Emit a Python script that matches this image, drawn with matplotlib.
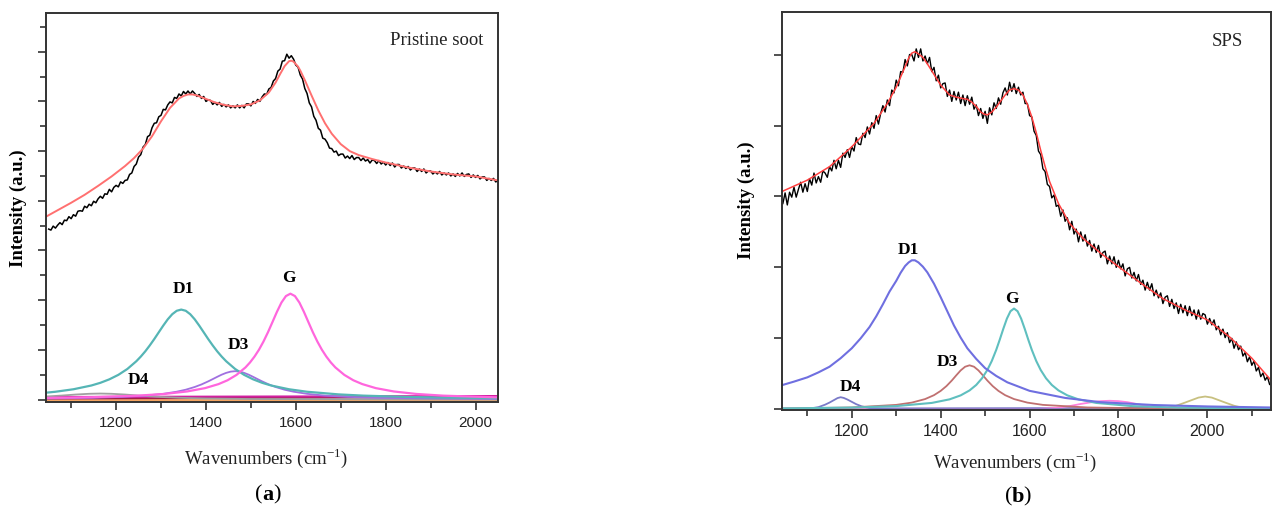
"""
Raman spectra of pristine soot and SPS soot with their band fits
"""

import numpy as np
import matplotlib
matplotlib.use('Agg')

import matplotlib.pyplot as plt
from matplotlib.ticker import MultipleLocator, NullFormatter

plt.rcParams['font.family'] = 'serif'
plt.rcParams['font.serif'] = ['Liberation Serif', 'DejaVu Serif']

W, H = 1274, 513

# ---------------- (a) pristine soot ----------------

A_RAW_X = np.arange(1050, 2051, 5)
A_RAW_Y = [
    3.43, 3.41, 3.49, 3.45, 3.51, 3.56, 3.52, 3.61, 3.60, 3.68,
    3.64, 3.72, 3.69, 3.79, 3.80, 3.79, 3.89, 3.86, 3.93, 3.90,
    3.99, 3.96, 4.04, 4.09, 4.05, 4.14, 4.13, 4.23, 4.18, 4.27,
    4.31, 4.28, 4.38, 4.35, 4.41, 4.42, 4.53, 4.56, 4.69, 4.74,
    4.88, 4.93, 5.08, 5.13, 5.29, 5.32, 5.47, 5.56, 5.57, 5.69,
    5.72, 5.84, 5.83, 5.93, 5.99, 5.97, 6.08, 6.06, 6.15, 6.11,
    6.20, 6.15, 6.21, 6.15, 6.21, 6.16, 6.10, 6.14, 6.06, 6.10,
    6.00, 6.03, 6.02, 5.94, 5.98, 5.93, 5.98, 5.90, 5.94, 5.89,
    5.93, 5.87, 5.91, 5.87, 5.93, 5.87, 5.92, 5.87, 5.95, 5.95,
    5.91, 6.00, 5.96, 6.04, 6.00, 6.09, 6.15, 6.14, 6.25, 6.28,
    6.41, 6.46, 6.61, 6.65, 6.81, 6.82, 6.95, 6.87, 6.92, 6.85,
    6.73, 6.69, 6.53, 6.45, 6.26, 6.16, 5.97, 5.89, 5.70, 5.62,
    5.46, 5.42, 5.26, 5.24, 5.17, 5.06, 5.05, 4.98, 5.00, 4.91,
    4.94, 4.94, 4.86, 4.90, 4.85, 4.91, 4.83, 4.87, 4.87, 4.81,
    4.86, 4.80, 4.83, 4.76, 4.82, 4.81, 4.75, 4.81, 4.74, 4.78,
    4.72, 4.77, 4.71, 4.76, 4.68, 4.73, 4.73, 4.66, 4.70, 4.65,
    4.69, 4.62, 4.66, 4.66, 4.59, 4.64, 4.59, 4.64, 4.56, 4.60,
    4.60, 4.54, 4.58, 4.54, 4.59, 4.52, 4.56, 4.52, 4.56, 4.50,
    4.54, 4.49, 4.55, 4.50, 4.56, 4.49, 4.53, 4.54, 4.47, 4.52,
    4.47, 4.51, 4.44, 4.48, 4.48, 4.41, 4.45, 4.41, 4.45, 4.38,
    4.41,
]

A_FIT_X = [1044, 1070, 1100, 1130, 1160, 1190, 1220, 1240, 1260, 1280, 1300,
           1320, 1340, 1350, 1360, 1370, 1380, 1400, 1420, 1440, 1460, 1480,
           1500, 1520, 1540, 1555, 1565, 1575, 1585, 1590, 1595, 1605, 1610,
           1620, 1635, 1650, 1665, 1680, 1700, 1720, 1740, 1770, 1800, 1850,
           1900, 1950, 2000, 2050]
A_FIT_Y = [3.68, 3.81, 3.96, 4.12, 4.30, 4.49, 4.70, 4.86, 5.05, 5.30, 5.60,
           5.87, 6.06, 6.11, 6.14, 6.14, 6.12, 6.05, 5.98, 5.93, 5.90, 5.91,
           5.94, 6.02, 6.18, 6.38, 6.55, 6.71, 6.81, 6.82, 6.80, 6.70, 6.62,
           6.43, 6.12, 5.82, 5.56, 5.35, 5.14, 5.00, 4.92, 4.84, 4.77, 4.67,
           4.59, 4.53, 4.49, 4.41]

A_D1_X = [1044, 1065, 1105, 1145, 1165, 1185, 1205, 1225, 1245, 1255,
          1265, 1275, 1285, 1295, 1305, 1315, 1325, 1335, 1345, 1355,
          1365, 1375, 1385, 1395, 1405, 1415, 1425, 1435, 1445, 1465,
          1485, 1505, 1525, 1545, 1585, 1625, 1695, 1750, 1850, 1950, 2050]
A_D1_Y = [0.137, 0.156, 0.206, 0.282, 0.336, 0.406, 0.496, 0.614, 0.770, 0.864,
          0.970, 1.089, 1.217, 1.353, 1.488, 1.614, 1.717, 1.786, 1.81, 1.786,
          1.717, 1.614, 1.488, 1.353, 1.217, 1.089, 0.970, 0.864, 0.770, 0.614,
          0.496, 0.406, 0.336, 0.282, 0.206, 0.156, 0.103, 0.078, 0.051, 0.036,
          0.0265]

A_G_X = [1044, 1148, 1248, 1308, 1358, 1398, 1428, 1448, 1468, 1488,
         1498, 1508, 1518, 1528, 1538, 1548, 1558, 1568, 1578, 1588,
         1598, 1608, 1618, 1628, 1638, 1648, 1658, 1668, 1678, 1688,
         1708, 1728, 1748, 1778, 1818, 1868, 1928, 2050]
A_G_Y = [0.031, 0.047, 0.0775, 0.112, 0.162, 0.229, 0.310, 0.387, 0.495, 0.646,
         0.745, 0.863, 1.002, 1.166, 1.353, 1.558, 1.765, 1.951, 2.082, 2.13,
         2.082, 1.951, 1.765, 1.558, 1.353, 1.166, 1.002, 0.863, 0.745, 0.646,
         0.495, 0.387, 0.310, 0.229, 0.162, 0.112, 0.0775, 0.0426]

A_D3_X = [1044, 1145, 1215, 1265, 1305, 1335, 1355, 1375, 1390, 1405,
          1415, 1425, 1435, 1445, 1455, 1465, 1475, 1485, 1495, 1505,
          1515, 1525, 1540, 1555, 1575, 1595, 1625, 1665, 1715, 1785, 2050]
A_D3_Y = [0.0199, 0.0335, 0.0529, 0.0786, 0.114, 0.157, 0.197, 0.252, 0.303, 0.365,
          0.410, 0.456, 0.500, 0.536, 0.561, 0.57, 0.561, 0.536, 0.500, 0.456,
          0.410, 0.365, 0.303, 0.252, 0.197, 0.157, 0.114, 0.0786, 0.0529, 0.0335,
          0.0105]

A_D4_X = [1044, 1080, 1110, 1140, 1165, 1190, 1220, 1250, 1290, 1340, 1400,
          1500, 1700, 2050]
A_D4_Y = [0.06, 0.08, 0.10, 0.115, 0.12, 0.115, 0.10, 0.08, 0.055, 0.035,
          0.02, 0.01, 0.005, 0.0]

A_FLAT_X = [1044, 2050]
A_FLAT_1 = [0.0, 0.0]
A_FLAT_2 = [0.02, 0.05]
A_FLAT_3 = [0.05, 0.07]

A_LABELS = ["D1", "G", "D3", "D4"]
A_LABEL_X = [1350, 1584, 1472, 1250]
A_LABEL_Y = [2.22, 2.44, 1.09, 0.39]

# ---------------- (b) SPS soot ----------------

B_RAW_X = np.arange(1045, 2141, 5)
B_RAW_Y = [
    2.90, 3.05, 2.88, 3.06, 2.99, 3.13, 2.99, 3.10, 3.20, 3.06,
    3.18, 3.07, 3.25, 3.16, 3.33, 3.19, 3.28, 3.20, 3.36, 3.33,
    3.27, 3.42, 3.36, 3.51, 3.39, 3.51, 3.41, 3.61, 3.55, 3.66,
    3.55, 3.70, 3.64, 3.83, 3.74, 3.73, 3.89, 3.83, 3.98, 3.88,
    4.04, 3.96, 4.14, 4.02, 4.17, 4.28, 4.19, 4.36, 4.28, 4.50,
    4.46, 4.64, 4.56, 4.76, 4.75, 4.93, 4.84, 5.00, 5.00, 4.91,
    5.08, 4.96, 5.08, 4.91, 4.98, 4.87, 4.96, 4.76, 4.82, 4.63,
    4.71, 4.53, 4.59, 4.60, 4.41, 4.50, 4.34, 4.48, 4.36, 4.47,
    4.31, 4.43, 4.28, 4.42, 4.30, 4.40, 4.23, 4.29, 4.14, 4.24,
    4.10, 4.20, 4.03, 4.25, 4.15, 4.32, 4.24, 4.39, 4.30, 4.46,
    4.53, 4.43, 4.61, 4.48, 4.59, 4.45, 4.54, 4.43, 4.47, 4.31,
    4.31, 4.14, 4.12, 3.92, 3.86, 3.64, 3.59, 3.39, 3.35, 3.17,
    3.14, 2.98, 3.02, 2.86, 2.88, 2.72, 2.81, 2.65, 2.70, 2.53,
    2.65, 2.47, 2.54, 2.36, 2.50, 2.37, 2.46, 2.30, 2.38, 2.23,
    2.33, 2.21, 2.31, 2.14, 2.21, 2.23, 2.05, 2.16, 2.05, 2.15,
    2.00, 2.10, 1.98, 2.05, 1.88, 1.98, 2.00, 1.85, 1.93, 1.81,
    1.90, 1.76, 1.82, 1.68, 1.79, 1.68, 1.77, 1.60, 1.68, 1.57,
    1.64, 1.49, 1.58, 1.60, 1.45, 1.55, 1.42, 1.50, 1.35, 1.48,
    1.36, 1.46, 1.32, 1.45, 1.32, 1.40, 1.27, 1.40, 1.27, 1.35,
    1.33, 1.20, 1.28, 1.19, 1.26, 1.12, 1.17, 1.05, 1.13, 1.01,
    1.08, 0.94, 1.00, 0.86, 0.95, 0.84, 0.89, 0.75, 0.80, 0.67,
    0.74, 0.62, 0.68, 0.54, 0.59, 0.46, 0.51, 0.41, 0.46, 0.35,
]

B_FIT_X = [1043, 1100, 1150, 1200, 1250, 1280, 1300, 1320, 1328, 1335, 1342,
           1350, 1360, 1370, 1385, 1400, 1420, 1435, 1450, 1460, 1470, 1480,
           1490, 1498, 1505, 1515, 1525, 1545, 1555, 1565, 1575, 1585, 1595,
           1605, 1615, 1625, 1635, 1645, 1665, 1690, 1720, 1760, 1800, 1850,
           1900, 1950, 2000, 2050, 2100, 2143]
B_FIT_Y = [3.07, 3.23, 3.42, 3.70, 4.03, 4.31, 4.54, 4.83, 4.95, 5.02, 5.04,
           5.01, 4.96, 4.87, 4.72, 4.57, 4.43, 4.40, 4.38, 4.37, 4.33, 4.27,
           4.19, 4.16, 4.15, 4.19, 4.26, 4.43, 4.50, 4.52, 4.50, 4.43, 4.30,
           4.12, 3.90, 3.65, 3.42, 3.21, 2.90, 2.62, 2.41, 2.20, 2.01, 1.78,
           1.56, 1.40, 1.26, 1.02, 0.72, 0.41]

B_D1_X = [1043, 1070, 1100, 1125, 1150, 1175, 1200, 1220, 1240, 1255,
          1270, 1285, 1300, 1310, 1320, 1328, 1335, 1342, 1350, 1360,
          1370, 1385, 1400, 1415, 1430, 1445, 1460, 1480, 1500, 1525,
          1550, 1600, 1680, 1760, 1880, 2000, 2143]
B_D1_Y = [0.34, 0.39, 0.45, 0.52, 0.60, 0.72, 0.86, 1.00, 1.16, 1.31,
          1.48, 1.66, 1.81, 1.925, 2.02, 2.07, 2.10, 2.10, 2.07, 2.01,
          1.93, 1.77, 1.58, 1.38, 1.18, 1.01, 0.86, 0.71, 0.58, 0.47,
          0.38, 0.26, 0.16, 0.10, 0.06, 0.04, 0.025]

B_G_X = [1043, 1200, 1300, 1380, 1420, 1445, 1465, 1480, 1493, 1505,
         1515, 1525, 1533, 1541, 1549, 1557, 1565, 1573, 1581, 1589,
         1597, 1605, 1615, 1625, 1637, 1650, 1665, 1685, 1710, 1750,
         1830, 1930, 2143]
B_G_Y = [0.012, 0.024, 0.045, 0.0896, 0.140, 0.196, 0.266, 0.343, 0.437, 0.554,
         0.681, 0.838, 0.983, 1.136, 1.278, 1.382, 1.42, 1.382, 1.278, 1.136,
         0.983, 0.838, 0.681, 0.554, 0.437, 0.343, 0.266, 0.196, 0.140, 0.0896,
         0.045, 0.024, 0.0097]

B_D3_X = [1043, 1200, 1300, 1335, 1365, 1385, 1400, 1413, 1425, 1435,
          1445, 1455, 1465, 1475, 1485, 1495, 1505, 1517, 1530, 1545,
          1565, 1595, 1630, 1730, 1900, 2143]
B_D3_Y = [0.0104, 0.0256, 0.062, 0.0941, 0.144, 0.199, 0.259, 0.327, 0.405, 0.478,
          0.548, 0.600, 0.62, 0.600, 0.548, 0.478, 0.405, 0.327, 0.259, 0.199,
          0.144, 0.0941, 0.062, 0.0256, 0.0098, 0.004]

B_D4_X = [1043, 1090, 1110, 1125, 1140, 1150, 1160, 1168, 1175, 1182,
          1190, 1200, 1210, 1222, 1240, 1265, 1300, 2143]
B_D4_Y = [0.0, 0.005, 0.015, 0.03, 0.065, 0.095, 0.13, 0.158, 0.17, 0.16,
          0.138, 0.105, 0.072, 0.042, 0.018, 0.007, 0.003, 0.0]

B_P_X = [1043, 1620, 1660, 1690, 1715, 1740, 1760, 1780, 1800, 1820,
         1845, 1870, 1900, 1940, 2143]
B_P_Y = [0.0, 0.005, 0.02, 0.045, 0.075, 0.10, 0.115, 0.12, 0.115, 0.10,
         0.07, 0.04, 0.015, 0.003, 0.0]

B_O_X = [1043, 1880, 1910, 1930, 1950, 1965, 1980, 1995, 2010, 2025,
         2040, 2060, 2080, 2110, 2143]
B_O_Y = [0.0, 0.0, 0.02, 0.05, 0.095, 0.13, 0.165, 0.18, 0.165, 0.13,
         0.095, 0.05, 0.02, 0.003, 0.0]

B_FLAT_X = [1043, 2143]
B_FLAT_1 = [0.0, 0.0]
B_FLAT_2 = [0.01, 0.02]

B_LABELS = ["D1", "G", "D3", "D4"]
B_LABEL_X = [1327, 1560, 1415, 1196]
B_LABEL_Y = [2.25, 1.55, 0.67, 0.31]


def px(x, y):
    return x / W, 1 - y / H


def style_axes(ax, xlim, ylim, yminor, tick_size):
    ax.set_xlim(*xlim)
    ax.set_ylim(*ylim)
    ax.set_xticks([1200, 1400, 1600, 1800, 2000])
    ax.xaxis.set_minor_locator(MultipleLocator(100))
    ax.yaxis.set_major_locator(MultipleLocator(1))
    if yminor:
        ax.yaxis.set_minor_locator(MultipleLocator(0.5))
    ax.yaxis.set_major_formatter(NullFormatter())
    ax.tick_params(which='both', direction='out', color='#333333', width=1.2)
    ax.tick_params(which='major', length=6)
    ax.tick_params(which='minor', length=4)
    ax.tick_params(axis='x', pad=4, labelsize=tick_size, labelcolor='#222222')
    for lbl in ax.get_xticklabels():
        lbl.set_fontfamily('Liberation Sans')
    for sp in ax.spines.values():
        sp.set_linewidth(1.4)
        sp.set_color('#333333')


fig = plt.figure(figsize=(W / 100, H / 100), dpi=100)

# panel (a)
ax = fig.add_axes([0.0361, 0.2164, 0.3548, 0.7583])
ax.plot(A_FLAT_X, A_FLAT_1, color='#f4a460', lw=2)
ax.plot(A_FLAT_X, A_FLAT_2, color='#a0204a', lw=1.5)
ax.plot(A_FLAT_X, A_FLAT_3, color='#d020a0', lw=1.5)
ax.plot(A_D4_X, A_D4_Y, color='#a0a0a0', lw=1.3)
ax.plot(A_D3_X, A_D3_Y, color='#a070e0', lw=1.3)
ax.plot(A_D1_X, A_D1_Y, color='#55b5b5', lw=1.6)
ax.plot(A_G_X, A_G_Y, color='#ff66dd', lw=1.6)
ax.plot(A_RAW_X, A_RAW_Y, color='black', lw=1.1)
ax.plot(A_FIT_X, A_FIT_Y, color='#ff7070', lw=1.4)
for t, x, y in zip(A_LABELS, A_LABEL_X, A_LABEL_Y):
    ax.text(x, y, t, ha='center', va='center', fontsize=12.5, fontweight='bold')
ax.text(0.865, 0.93, "Pristine soot", transform=ax.transAxes,
        ha='center', va='center', fontsize=13.5, color='#222222')
style_axes(ax, (1044, 2050), (-0.05, 7.78), True, 11)

# panel (b)
ax = fig.add_axes([0.6138, 0.2008, 0.3838, 0.7758])
ax.plot(B_FLAT_X, B_FLAT_1, color='#a03030', lw=1.5)
ax.plot(B_FLAT_X, B_FLAT_2, color='#6060c0', lw=1.2)
ax.plot(B_O_X, B_O_Y, color='#c8c080', lw=1.3)
ax.plot(B_P_X, B_P_Y, color='#ff80e0', lw=1.3)
ax.plot(B_D4_X, B_D4_Y, color='#7a7ac8', lw=1.3)
ax.plot(B_D3_X, B_D3_Y, color='#c07070', lw=1.3)
ax.plot(B_G_X, B_G_Y, color='#5fbfbf', lw=1.5)
ax.plot(B_D1_X, B_D1_Y, color='#6f6fe0', lw=1.5)
ax.plot(B_RAW_X, B_RAW_Y, color='black', lw=1.0)
ax.plot(B_FIT_X, B_FIT_Y, color='#ff4040', lw=1.1)
for t, x, y in zip(B_LABELS, B_LABEL_X, B_LABEL_Y):
    ax.text(x, y, t, ha='center', va='center', fontsize=12.5, fontweight='bold')
ax.text(0.91, 0.925, "SPS", transform=ax.transAxes,
        ha='center', va='center', fontsize=13.5, color='#222222')
style_axes(ax, (1043, 2143), (-0.01, 5.6), False, 11.5)

# axis titles and panel tags
fig.text(*px(18, 208), "Intensity (a.u.)", rotation=90, ha='center',
         va='center', fontsize=13.5, fontweight='bold')
fig.text(*px(746, 200), "Intensity (a.u.)", rotation=90, ha='center',
         va='center', fontsize=13.5, fontweight='bold')
fig.text(*px(266, 458), r"Wavenumbers (cm$^{\mathregular{-1}}$)",
         ha='center', va='center', fontsize=13.5, color='#222222')
fig.text(*px(1015, 462), r"Wavenumbers (cm$^{\mathregular{-1}}$)",
         ha='center', va='center', fontsize=13.5, color='#222222')
fig.text(*px(262, 495), "(", ha='right', va='center', fontsize=16)
fig.text(*px(262, 495), "a", ha='left', va='center', fontsize=16,
         fontweight='bold')
fig.text(*px(273, 495), ")", ha='left', va='center', fontsize=16)
fig.text(*px(1012, 497), "(", ha='right', va='center', fontsize=16)
fig.text(*px(1012, 497), "b", ha='left', va='center', fontsize=16,
         fontweight='bold')
fig.text(*px(1023, 497), ")", ha='left', va='center', fontsize=16)

fig.savefig("out.png", dpi=100)
